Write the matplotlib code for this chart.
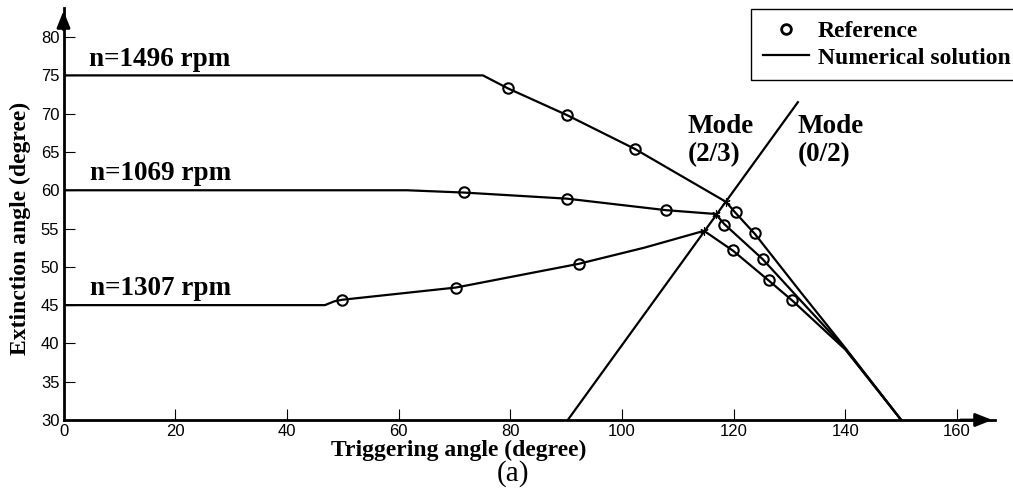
import matplotlib
matplotlib.use("Agg")
import matplotlib.pyplot as plt

# numerical solutions (triggering angle, extinction angle)
num_1496_x = [0, 75.1, 79.6, 90.2, 102.3, 118.6, 120.4, 123.8, 132, 140, 150]
num_1496_y = [75, 75, 73.3, 69.8, 65.4, 58.5, 57.0, 54.3, 46.7, 39.4, 30]
num_1069_x = [0, 61.5, 71.7, 90.2, 107.9, 116.8, 118.3, 125.2, 132, 140, 150]
num_1069_y = [60, 60, 59.7, 58.9, 57.4, 56.9, 55.6, 51.0, 45.6, 39.3, 30]
num_1307_x = [0, 46.8, 48.5, 49.9, 70.3, 92.3, 104, 114.7, 119.9, 126.3, 130.5, 140, 150]
num_1307_y = [45, 45, 45.5, 45.7, 47.3, 50.4, 52.5, 54.7, 52.1, 48.2, 45.6, 39.2, 30]

# reference points
ref_1496_x = [79.6, 90.2, 102.3, 120.4, 123.8]
ref_1496_y = [73.3, 69.8, 65.4, 57.1, 54.4]
ref_1069_x = [71.7, 90.2, 107.9, 118.3, 125.2]
ref_1069_y = [59.8, 58.9, 57.4, 55.5, 51.0]
ref_1307_x = [49.9, 70.3, 92.3, 119.9, 126.3, 130.5]
ref_1307_y = [45.7, 47.2, 50.4, 52.2, 48.3, 45.7]

# mode switching points and boundary
kink_x = [118.6, 116.8, 114.7]
kink_y = [58.5, 56.9, 54.7]
mode_x = [90.3, 131.5]
mode_y = [30, 71.5]

serif = 'Liberation Serif'
plt.rcParams['font.family'] = 'Liberation Sans'

fig = plt.figure(figsize=(10.13, 5.01), dpi=100)
ax = fig.add_axes([63.5 / 1013, 81 / 501, (995 - 63.5) / 1013, (420 - 8) / 501])

lw = 1.6
for xs, ys in [(num_1496_x, num_1496_y), (num_1069_x, num_1069_y), (num_1307_x, num_1307_y)]:
    ax.plot(xs, ys, color='black', linewidth=lw)
ax.plot(mode_x, mode_y, color='black', linewidth=lw)
ax.plot(kink_x, kink_y, linestyle='none', marker=(6, 2, 0), markersize=6,
        markeredgecolor='black', markeredgewidth=0.8)
for xs, ys in [(ref_1496_x, ref_1496_y), (ref_1069_x, ref_1069_y), (ref_1307_x, ref_1307_y)]:
    ax.plot(xs, ys, linestyle='none', marker='o', markersize=7.5,
            markerfacecolor='none', markeredgecolor='black', markeredgewidth=1.5)

ax.set_xlim(0, 166.8)
ax.set_ylim(30, 83.8)
ax.set_xticks(range(0, 161, 20))
ax.set_yticks(range(30, 81, 5))
ax.tick_params(direction='in', length=8, width=0.8, labelsize=12, pad=3)
ax.spines['top'].set_visible(False)
ax.spines['right'].set_visible(False)
ax.spines['left'].set_linewidth(2)
ax.spines['bottom'].set_linewidth(2)

# arrow heads on axes
ax.annotate('', xy=(1, 0), xytext=(0.96, 0), xycoords='axes fraction',
            arrowprops=dict(arrowstyle='-|>,head_length=1.0,head_width=0.4', color='black', lw=2))
ax.annotate('', xy=(0, 1), xytext=(0, 0.94), xycoords='axes fraction',
            arrowprops=dict(arrowstyle='-|>,head_length=1.0,head_width=0.4', color='black', lw=2))

ax.text(4.5, 76.2, 'n=1496 rpm', family=serif, weight='bold', fontsize=19.5)
ax.text(4.7, 61.3, 'n=1069 rpm', family=serif, weight='bold', fontsize=19.5)
ax.text(4.7, 46.3, 'n=1307 rpm', family=serif, weight='bold', fontsize=19.5)
ax.text(111.8, 69.9, 'Mode\n(2/3)', family=serif, weight='bold', fontsize=19.5,
        linespacing=1.15, va='top')
ax.text(131.5, 69.9, 'Mode\n(0/2)', family=serif, weight='bold', fontsize=19.5,
        linespacing=1.15, va='top')

ax.set_xlabel('Triggering angle (degree)', family=serif, weight='bold', fontsize=17)
ax.xaxis.label.set_verticalalignment('center')
ax.xaxis.set_label_coords((459 - 63.5) / (995 - 63.5), -30 / 412)
ax.set_ylabel('Extinction angle (degree)', family=serif, weight='bold', fontsize=17)
ax.yaxis.label.set_verticalalignment('center')
ax.yaxis.set_label_coords((20 - 63.5) / (995 - 63.5), (420 - 228) / 412)

fig.text(513 / 1013, 1 - 474 / 501, '(a)', family=serif, fontsize=21, ha='center', va='center')

h_ref, = ax.plot([], [], linestyle='none', marker='o', markersize=7,
                 markerfacecolor='none', markeredgecolor='black', markeredgewidth=2)
h_num, = ax.plot([], [], color='black', linewidth=lw)
leg = fig.legend([h_ref, h_num], ['Reference', 'Numerical solution'],
                 loc='upper left', bbox_to_anchor=(751 / 1013, 1 - 9 / 501),
                 prop={'family': serif, 'weight': 'bold', 'size': 17},
                 fancybox=False, framealpha=1, edgecolor='black',
                 borderpad=0.5, labelspacing=0.2, handlelength=1.95, handletextpad=0.38,
                 borderaxespad=0)
leg.get_frame().set_linewidth(1)

fig.savefig('out.png', dpi=100)
